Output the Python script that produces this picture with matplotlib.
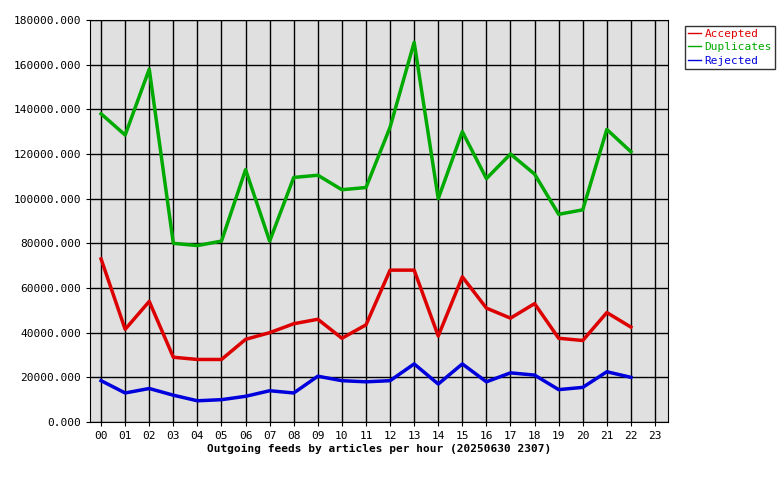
import matplotlib
matplotlib.use("Agg")
import matplotlib.pyplot as plt
import numpy as np

hours = ["%02d" % h for h in range(24)]
accepted = [73000, 41500, 54000, 29000, 28000, 28000, 37000, 40000, 44000, 46000, 37500, 43500,
            68000, 68000, 38500, 65000, 51000, 46500, 53000, 37500, 36500, 49000, 42500]
duplicates = [138000, 128500, 158000, 80000, 79000, 81000, 113000, 81000, 109500, 110500, 104000, 105000,
              132000, 170000, 100000, 130000, 109000, 120000, 111000, 93000, 95000, 131000, 121000]
rejected = [18500, 13000, 15000, 12000, 9500, 10000, 11500, 14000, 13000, 20500, 18500, 18000,
            18500, 26000, 17000, 26000, 18000, 22000, 21000, 14500, 15500, 22500, 20000]

plt.rcParams["font.family"] = "DejaVu Sans Mono"
plt.rcParams["font.size"] = 8

fig = plt.figure(figsize=(7.8, 4.8), dpi=100)
ax = fig.add_axes([90 / 780, 1 - 422 / 480, 578 / 780, 402 / 480])
ax.set_facecolor("#e0e0e0")

x = np.arange(len(accepted))
ax.plot(x, accepted, color="#dd0000", lw=2.5, label="Accepted")
ax.plot(x, duplicates, color="#00aa00", lw=2.5, label="Duplicates")
ax.plot(x, rejected, color="#0000dd", lw=2.5, label="Rejected")

ax.set_xlim(-0.46, 23.54)
ax.set_ylim(0, 180000)
ax.set_xticks(range(24))
ax.set_xticklabels(hours)
yt = np.arange(0, 180001, 20000)
ax.set_yticks(yt)
ax.set_yticklabels(["%.3f" % v for v in yt])
ax.grid(True, color="black", lw=1)
ax.set_axisbelow(True)
ax.tick_params(length=3, color="black")
ax.set_xlabel("Outgoing feeds by articles per hour (20250630 2307)", fontweight="bold", labelpad=2)

handles, labels = ax.get_legend_handles_labels()
leg = fig.legend(handles, labels, loc="upper left", bbox_to_anchor=(679 / 780, 1 - 20 / 480),
                 frameon=True, fancybox=False, edgecolor="black", handlelength=1.2,
                 borderpad=0.3, labelspacing=0.3, handletextpad=0.3)
for h in leg.get_lines():
    h.set_linewidth(1)
for t, c in zip(leg.get_texts(), ["#dd0000", "#00aa00", "#0000dd"]):
    t.set_color(c)

fig.savefig("out.png", dpi=100)
